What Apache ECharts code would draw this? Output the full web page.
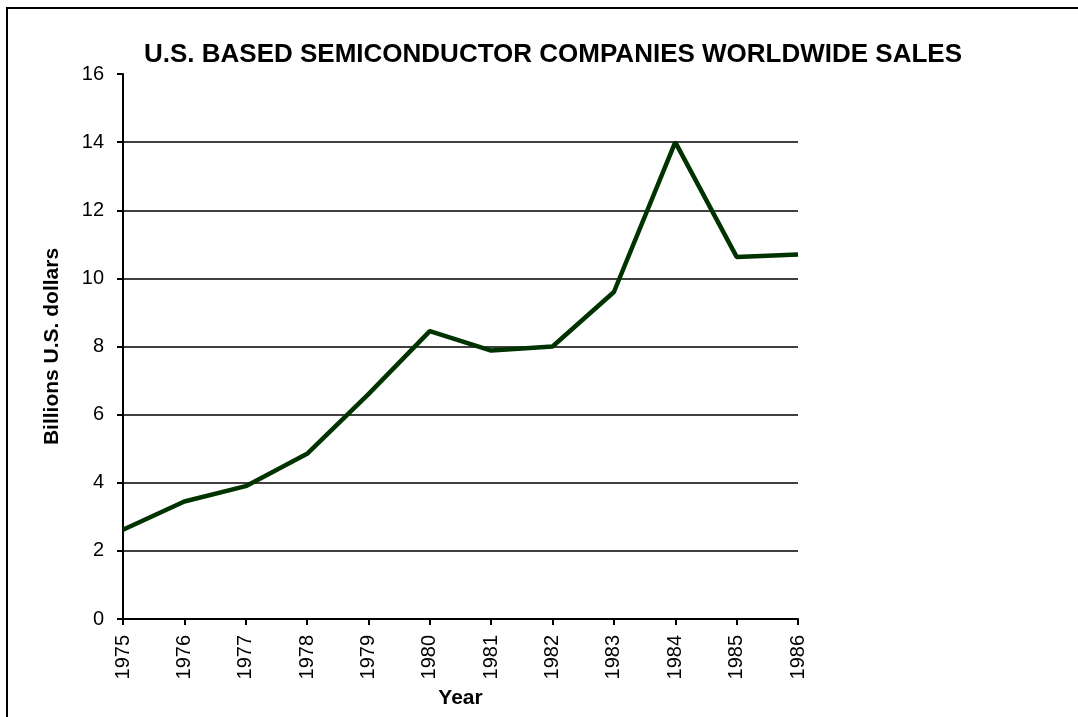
<!DOCTYPE html>
<html>
<head>
<meta charset="utf-8">
<script src="https://cdn.jsdelivr.net/npm/echarts@6/dist/echarts.min.js"></script>
<style>
  html, body { margin: 0; padding: 0; background: #fff; }
  #frame { position: absolute; left: 6px; top: 7px; width: 1100px; height: 740px;
           border-left: 2px solid #000; border-top: 2px solid #000; }
  #chart { position: absolute; left: 0; top: 0; width: 1078px; height: 717px; }
</style>
</head>
<body>
<div id="frame"></div>
<div id="chart"></div>
<script>
// 年份与销售额（十亿美元）
const years = ['1975', '1976', '1977', '1978', '1979', '1980', '1981', '1982', '1983', '1984', '1985', '1986'];
const sales = [2.62, 3.45, 3.9, 4.85, 6.6, 8.45, 7.88, 8.0, 9.6, 14.0, 10.63, 10.7];
const yTicks = [0, 16, 2]; // min, max, interval

const chart = echarts.init(document.getElementById('chart'));
const font = 'Liberation Sans, Arial, sans-serif';

chart.setOption({
  animation: false,
  title: {
    text: 'U.S. BASED SEMICONDUCTOR COMPANIES WORLDWIDE SALES',
    left: 548,
    textAlign: 'center',
    top: 37,
    textStyle: { fontFamily: font, fontSize: 26, fontWeight: 'bold', color: '#000' }
  },
  grid: { left: 123, top: 74, right: 280, bottom: 98 },
  xAxis: {
    type: 'category',
    data: years,
    boundaryGap: false,
    name: 'Year',
    nameLocation: 'middle',
    nameGap: 64,
    nameTextStyle: { fontFamily: font, fontSize: 21, fontWeight: 'bold', color: '#000' },
    axisLine: { lineStyle: { color: '#000', width: 2 } },
    axisTick: { length: 6, lineStyle: { color: '#000', width: 2 } },
    axisLabel: { rotate: 90, margin: 16, fontFamily: font, fontSize: 20, color: '#000' },
    splitLine: { show: false }
  },
  yAxis: {
    type: 'value',
    min: yTicks[0],
    max: yTicks[1],
    interval: yTicks[2],
    name: 'Billions U.S. dollars',
    nameLocation: 'middle',
    nameGap: 60,
    nameTextStyle: { fontFamily: font, fontSize: 21, fontWeight: 'bold', color: '#000' },
    axisLine: { show: true, lineStyle: { color: '#000', width: 2 } },
    axisTick: { show: true, length: 6, lineStyle: { color: '#000', width: 2 } },
    axisLabel: { margin: 19, fontFamily: font, fontSize: 20, color: '#000' },
    splitLine: { show: true, showMinLine: false, showMaxLine: false,
                 lineStyle: { color: '#000', width: 1.5 } }
  },
  series: [{
    type: 'line',
    data: sales,
    symbol: 'none',
    lineStyle: { color: '#003300', width: 4.5 }
  }]
});
</script>
</body>
</html>
